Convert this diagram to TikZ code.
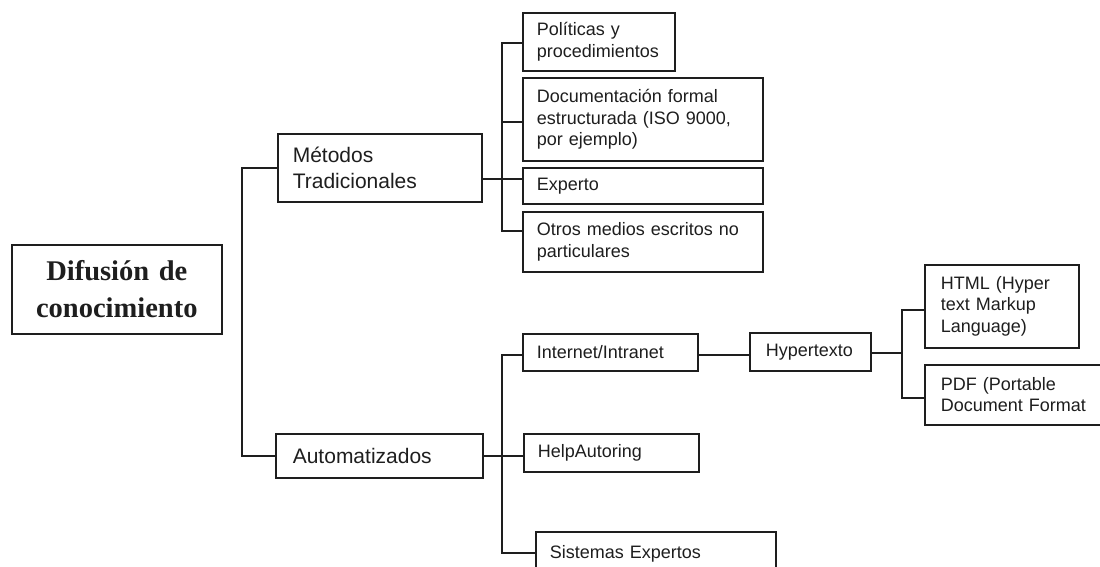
\documentclass[tikz,border=0pt]{standalone}
\usepackage{fontspec}
\setmainfont{Liberation Serif}
\newfontfamily\arialf{Liberation Sans}
\definecolor{ink}{HTML}{1E1E1E}
\begin{document}
\begin{tikzpicture}[x=1pt,y=-1pt,
  bx/.style={draw=ink, line width=1.6pt, anchor=north west, inner xsep=14pt, inner ysep=0pt,
             align=left, text=ink, font=\arialf\fontsize{18}{21.5}\selectfont},
  mbx/.style={bx, inner xsep=15pt, font=\arialf\fontsize{21}{26}\selectfont},
  wire/.style={draw=ink, line width=1.6pt, line join=miter}]
\useasboundingbox (0,0) rectangle (1100,566);
\clip (0,0) rectangle (1100,566);
\fill[white] (0,0) rectangle (1100,566);

% nodes
\node[bx, font=\bfseries\fontsize{28.5}{37}\selectfont, align=center, text width=182pt,
      minimum width=210pt, minimum height=89pt] (root) at (11,244) {Difusión de\\conocimiento};
\node[mbx, text width=174pt, minimum width=204pt, minimum height=68pt] (met) at (277,133) {Métodos\\Tradicionales};
\node[mbx, inner xsep=17pt, text width=173pt, minimum width=207pt, minimum height=44pt] (aut) at (275,433) {Automatizados};

\node[bx, text width=124pt, minimum width=152pt, minimum height=58pt] (pol) at (522,12) {Políticas y\\procedimientos};
\node[bx, text width=212pt, minimum width=240pt, minimum height=83pt] (doc) at (522,77) {Documentación formal\\estructurada (ISO 9000,\\por ejemplo)};
\node[bx, text width=212pt, minimum width=240pt, minimum height=36pt] (exp) at (522,167) {Experto};
\node[bx, text width=212pt, minimum width=240pt, minimum height=60pt] (otr) at (522,211) {Otros medios escritos no\\particulares};

\node[bx, text width=147pt, minimum width=175pt, minimum height=37pt] (int) at (522,333) {Internet/Intranet};
\node[bx, text width=147pt, minimum width=175pt, minimum height=38pt] (hlp) at (523,433) {HelpAutoring};
\node[bx, text width=212pt, minimum width=240pt, minimum height=44pt] (sis) at (535,531) {Sistemas Expertos};

\node[bx, inner xsep=16pt, text width=89pt, minimum width=121pt, minimum height=38pt] (hyp) at (749,332) {Hypertexto};
\node[bx, inner xsep=16pt, text width=122pt, minimum width=154pt, minimum height=83pt] (html) at (924,264) {HTML (Hyper\\text Markup\\Language)};
\node[bx, inner xsep=16pt, text width=158pt, minimum width=190pt, minimum height=60pt] (pdf) at (924,364) {PDF (Portable\\Document Format};

% bus coordinates
\coordinate (tb) at (242,456);
\coordinate (p1) at (502,43);
\coordinate (p2) at (502,122);
\coordinate (p3) at (502,179);
\coordinate (p4) at (502,231);
\coordinate (q1) at (502,355);
\coordinate (q2) at (502,456);
\coordinate (q3) at (502,553);
\coordinate (r0) at (902,353);
\coordinate (r1) at (902,310);
\coordinate (r2) at (902,398);

% connectors
\draw[wire] (met.west) -| (tb) -- (aut.west |- tb);

\draw[wire] (pol.west |- p1) -- (p1) -- (p4) -- (otr.west |- p4);
\draw[wire] (p2) -- (doc.west |- p2);
\draw[wire] (met.east |- p3) -- (exp.west |- p3);

\draw[wire] (int.west |- q1) -- (q1) -- (q3) -- (sis.west |- q3);
\draw[wire] (aut.east |- q2) -- (hlp.west |- q2);
\draw[wire] (int.east |- q1) -- (hyp.west |- q1);

\draw[wire] (hyp.east |- r0) -- (r0);
\draw[wire] (html.west |- r1) -- (r1) -- (r2) -- (pdf.west |- r2);
\end{tikzpicture}
\end{document}
